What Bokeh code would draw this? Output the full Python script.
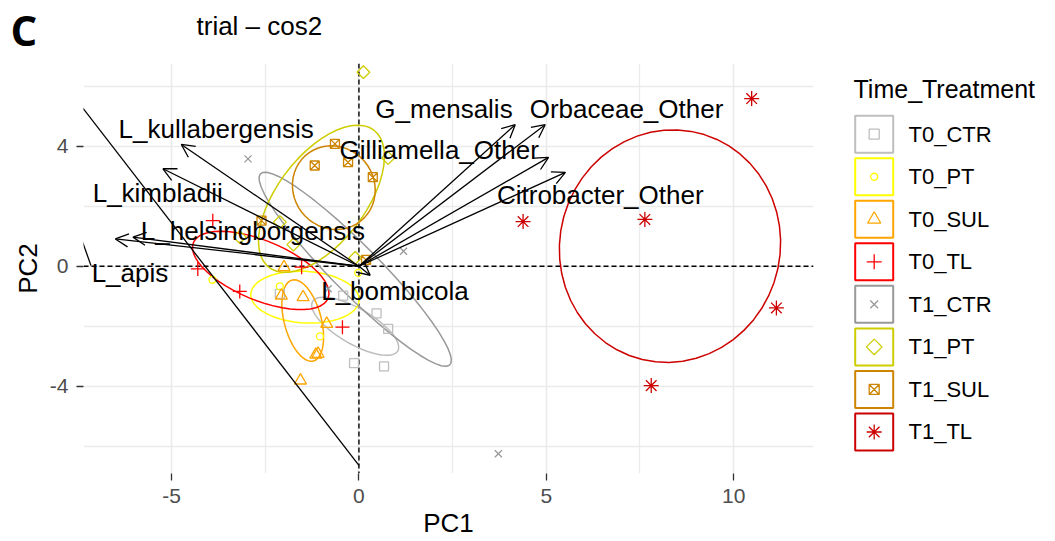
import numpy as np
from bokeh.plotting import figure
from bokeh.models import (ColumnDataSource, Range1d, Span, Arrow, OpenHead,
                          FixedTicker)
from bokeh.layouts import row, column
from bokeh.embed import file_html
from bokeh.resources import INLINE
from bokeh.core.properties import value

FONT = "Liberation Sans"

# ---- groups -------------------------------------------------------------
groups = ["T0_CTR", "T0_PT", "T0_SUL", "T0_TL", "T1_CTR", "T1_PT", "T1_SUL", "T1_TL"]
colors = ["#BEBEBE", "#FFFF00", "#FFA500", "#FF0000", "#999999", "#CDCD00", "#CD8500", "#CD0000"]
# the open diamond is a square turned by 45 degrees
markers = ["square", "circle", "triangle", "cross", "x", "square", "square_x", "asterisk"]
marker_angles = [0, 0, 0, 0, 0, np.pi / 4, 0, 0]
marker_sizes = [9, 7, 12, 14, 10, 9, 9, 15]
legend_sizes = [10, 7, 13, 15, 11, 11, 10, 15]

# ---- individuals (PC1, PC2) ----------------------------------------------
t0_ctr_pc1 = [-2.11, -0.42, 0.47, 0.78, -0.13, 0.67]
t0_ctr_pc2 = [-0.92, -0.98, -1.57, -2.09, -3.23, -3.34]
t0_pt_pc1 = [-3.91, -2.11, -0.02, -1.04]
t0_pt_pc2 = [-0.45, -0.67, -0.22, -2.34]
t0_sul_pc1 = [-2.00, -2.07, -1.49, -0.86, -1.09, -1.15, -1.56]
t0_sul_pc2 = [-0.03, -0.98, -1.03, -1.92, -2.92, -2.95, -3.81]
t0_tl_pc1 = [-3.90, -4.30, -3.18, -0.44, -1.53]
t0_tl_pc2 = [1.52, -0.09, -0.84, -2.03, -0.03]
t1_ctr_pc1 = [-2.96, 1.19, -0.82, 3.72]
t1_ctr_pc2 = [3.58, 0.50, -0.75, -6.25]
t1_pt_pc1 = [0.12, 0.78, -3.18, -2.11, -1.75, -0.10]
t1_pt_pc2 = [6.47, 3.61, 0.97, 1.47, 0.72, 0.28]
t1_sul_pc1 = [-0.64, -1.18, -0.29, 0.37, -2.60, 0.19]
t1_sul_pc2 = [4.08, 3.36, 3.47, 2.97, 1.52, 0.21]
t1_tl_pc1 = [10.48, 4.38, 7.63, 11.14, 7.80]
t1_tl_pc2 = [5.59, 1.49, 1.56, -1.39, -3.98]

group_pc1 = [t0_ctr_pc1, t0_pt_pc1, t0_sul_pc1, t0_tl_pc1,
             t1_ctr_pc1, t1_pt_pc1, t1_sul_pc1, t1_tl_pc1]
group_pc2 = [t0_ctr_pc2, t0_pt_pc2, t0_sul_pc2, t0_tl_pc2,
             t1_ctr_pc2, t1_pt_pc2, t1_sul_pc2, t1_tl_pc2]

# ---- concentration ellipses: centre, semi-axes, orientation (deg) ----------
ell_cx = [-0.10, -1.44, -1.50, -2.62, -0.10, -1.00, -0.67, 8.30]
ell_cy = [-2.00, -1.03, -1.81, -0.14, -0.10, 2.25, 2.62, 0.67]
ell_a = [1.41, 1.45, 1.38, 2.03, 4.07, 2.70, 1.40, 3.88]
ell_b = [0.55, 0.86, 0.50, 0.95, 0.70, 1.25, 1.10, 2.95]
ell_angle = [-38, -5, -79, -30, -52, 62, 97, 87]

# ---- variables (loadings) ------------------------------------------------
var_names = ["L_kullabergensis", "L_kimbladii", "L_helsingborgensis", "L_apis",
             "L_bombicola", "G_mensalis", "Orbaceae_Other", "Gilliamella_Other",
             "Citrobacter_Other"]
var_pc1 = [-4.74, -5.23, -6.03, -6.50, 0.30, 4.17, 4.97, 5.06, 5.51]
var_pc2 = [4.06, 3.25, 0.97, 0.91, -0.30, 4.72, 4.72, 3.63, 3.13]
lab_pc1 = [-3.81, -5.37, -2.83, -6.11, 0.96, 2.27, 7.14, 2.14, 6.44]
lab_pc2 = [4.56, 2.43, 1.16, -0.24, -0.84, 5.23, 5.23, 3.89, 2.36]

# label connector segments
seg_x0 = [0.00, -7.15]
seg_y0 = [-6.64, 0.02]
seg_x1 = [-7.60, -7.40]
seg_y1 = [5.65, 0.90]

x_ticks = [-5, 0, 5, 10]
y_ticks = [-4, 0, 4]

TOP = 63       # height of the heading strip
PANEL_H = 410  # plotting area height

# ---- heading strip: panel tag and title ----------------------------------
hd = figure(width=1055, height=TOP, x_range=Range1d(0, 1055), y_range=Range1d(TOP, 0),
            output_backend="svg", toolbar_location=None, min_border=0,
            x_axis_location=None, y_axis_location=None)
hd.grid.visible = False
hd.outline_line_color = None
hd.text(x=[10], y=[0], text=["C"], text_font=value("Open Sans"),
        text_font_size="42px", text_font_style="bold", text_baseline="top",
        text_color="black")
hd.text(x=[196], y=[25], text=["trial \u2013 cos2"], text_font=value(FONT),
        text_font_size="26px", text_baseline="alphabetic", text_color="black")

# ---- main panel -----------------------------------------------------------
p = figure(width=830, height=541 - TOP, x_range=Range1d(-7.35, 12.13),
           y_range=Range1d(-6.91, 6.76), output_backend="svg",
           toolbar_location=None, min_border_left=83, min_border_right=17,
           min_border_top=0, min_border_bottom=541 - TOP - PANEL_H)
p.outline_line_color = None
p.background_fill_color = "white"

p.xaxis.ticker = FixedTicker(ticks=x_ticks, minor_ticks=[-7.5, -2.5, 2.5, 7.5, 12.5])
p.yaxis.ticker = FixedTicker(ticks=y_ticks, minor_ticks=[-6, -2, 2, 6])
p.xaxis.major_label_overrides = {t: str(t) for t in x_ticks}
p.yaxis.major_label_overrides = {t: str(t) for t in y_ticks}
for ax in (p.xaxis, p.yaxis):
    ax.axis_line_color = None
    ax.major_tick_in = 0
    ax.major_tick_out = 7
    ax.minor_tick_in = 0
    ax.minor_tick_out = 0
    ax.major_tick_line_color = "#333333"
    ax.major_tick_line_width = 1.3
    ax.major_label_text_color = "#4D4D4D"
    ax.major_label_text_font = FONT
    ax.major_label_text_font_size = "21px"
    ax.axis_label_text_font = FONT
    ax.axis_label_text_font_size = "26px"
    ax.axis_label_text_font_style = "normal"
    ax.axis_label_text_color = "black"
    ax.major_label_standoff = 8
p.xaxis.axis_label = "PC1"
p.yaxis.axis_label = "PC2"
p.xaxis.axis_label_standoff = 2
p.yaxis.axis_label_standoff = 4

for g in (p.xgrid, p.ygrid):
    g.grid_line_color = "#EBEBEB"
    g.grid_line_width = 1.6
    g.minor_grid_line_color = "#EBEBEB"
    g.minor_grid_line_width = 1.3

# dashed reference lines through the origin
p.add_layout(Span(location=0, dimension="width", line_color="black",
                  line_dash="5 3", line_width=1.4, level="underlay"))
p.add_layout(Span(location=0, dimension="height", line_color="black",
                  line_dash="5 3", line_width=1.4, level="underlay"))

# ellipses
t = np.linspace(0, 2 * np.pi, 52)
ell_xs, ell_ys = [], []
for cx, cy, a, b, ang in zip(ell_cx, ell_cy, ell_a, ell_b, ell_angle):
    th = np.deg2rad(ang)
    ex = a * np.cos(t)
    ey = b * np.sin(t)
    ell_xs.append(list(cx + ex * np.cos(th) - ey * np.sin(th)))
    ell_ys.append(list(cy + ex * np.sin(th) + ey * np.cos(th)))
p.multi_line(xs="xs", ys="ys", line_color="color", line_width=1.5,
             source=ColumnDataSource(dict(xs=ell_xs, ys=ell_ys, color=colors)))

# individuals
for xs_, ys_, col, mk, ang, sz in zip(group_pc1, group_pc2, colors, markers,
                                      marker_angles, marker_sizes):
    p.scatter(x=xs_, y=ys_, marker=mk, size=sz, angle=ang, line_color=col,
              fill_color=None, line_width=1.3)

# label connectors
p.segment(x0=seg_x0, y0=seg_y0, x1=seg_x1, y1=seg_y1, line_color="black", line_width=1.3)

# variable labels
vsrc = ColumnDataSource(dict(name=var_names, x=var_pc1, y=var_pc2,
                             lx=lab_pc1, ly=lab_pc2))
p.text(x="lx", y="ly", text="name", source=vsrc, text_font=value(FONT),
       text_font_size="26px", text_align="center", text_baseline="middle",
       text_color="black")

# loading arrows
p.add_layout(Arrow(end=OpenHead(size=13, line_width=1.3, line_color="black"),
                   x_start=0, y_start=0, x_end="x", y_end="y", source=vsrc,
                   line_color="black", line_width=1.3))

# ---- legend panel (page pixel coordinates, frame shares the panel's rows) --
lg = figure(width=225, height=541 - TOP, x_range=Range1d(0, 225),
            y_range=Range1d(TOP + PANEL_H, TOP),
            output_backend="svg", toolbar_location=None, min_border=0,
            x_axis_location=None, y_axis_location=None)
lg.grid.visible = False
lg.outline_line_color = None

key_y = [133.7 + 42.54 * i for i in range(len(groups))]
key_x = [43.7] * len(groups)
lg.rect(x=key_x, y=key_y, width=38, height=37, fill_color=None,
        line_color=colors, line_width=2)
for kx, ky, col, mk, ang, sz in zip(key_x, key_y, colors, markers,
                                    marker_angles, legend_sizes):
    lg.scatter(x=[kx], y=[ky], marker=mk, size=sz, angle=ang, line_color=col,
               fill_color=None, line_width=1.3)
lg.text(x=[78] * len(groups), y=key_y, text=groups, text_font=value(FONT),
        text_font_size="22px", text_baseline="middle", text_align="left",
        text_color="black")
lg.text(x=[23], y=[88], text=["Time_Treatment"], text_font=value(FONT),
        text_font_size="25px", text_baseline="middle", text_align="left",
        text_color="black")

layout = column(hd, row(p, lg))
open("out.html", "w").write(file_html(layout, INLINE))
